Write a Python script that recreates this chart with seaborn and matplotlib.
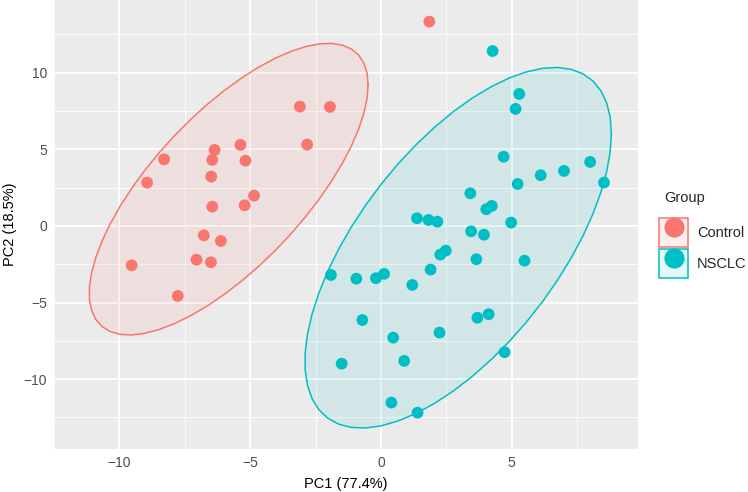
import numpy as np
import pandas as pd
import matplotlib
matplotlib.use("Agg")
import matplotlib.pyplot as plt
import seaborn as sns
from matplotlib.patches import Patch
from matplotlib.lines import Line2D
from matplotlib.legend_handler import HandlerTuple

# PCA scores
control_pc1 = [-3.10, -1.95, -2.82, -6.36, -5.37, -8.29, -6.45, -5.18, -8.94, -6.49,
               -4.85, -6.45, -5.21, -6.77, -6.12, -7.05, -6.50, -9.53, -7.77, 1.85]
control_pc2 = [7.79, 7.77, 5.31, 4.96, 5.29, 4.35, 4.31, 4.26, 2.83, 3.22,
               1.98, 1.26, 1.35, -0.61, -0.98, -2.20, -2.37, -2.57, -4.57, 13.34]
nsclc_pc1 = [4.27, 5.29, 5.15, 4.69, 8.00, 7.00, 6.11, 5.23, 8.53, 3.42,
             4.24, 4.03, 1.38, 1.82, 2.16, 4.98, 3.45, 3.94, 2.48, 2.27,
             3.65, 5.49, -1.91, -0.94, -0.19, 0.12, 1.90, 1.20, -0.71, 3.69,
             4.12, 0.47, 2.24, -1.50, 0.89, 4.73, 0.40, 1.40]
nsclc_pc2 = [11.42, 8.62, 7.64, 4.52, 4.18, 3.59, 3.31, 2.74, 2.83, 2.13,
             1.31, 1.09, 0.50, 0.39, 0.28, 0.22, -0.35, -0.57, -1.61, -1.87,
             -2.17, -2.27, -3.20, -3.44, -3.41, -3.13, -2.85, -3.85, -6.14, -5.99,
             -5.76, -7.29, -6.96, -8.99, -8.81, -8.24, -11.53, -12.19]

groups = ["Control", "NSCLC"]
palette = {"Control": "#F8766D", "NSCLC": "#00BFC4"}
x_ticks = [-10, -5, 0, 5]
y_ticks = [-10, -5, 0, 5, 10]

df = pd.DataFrame({
    "PC1": control_pc1 + nsclc_pc1,
    "PC2": control_pc2 + nsclc_pc2,
    "Group": ["Control"] * len(control_pc1) + ["NSCLC"] * len(nsclc_pc1),
})


def cov_trob(x, nu=5, maxit=25, tol=0.01):
    # robust t covariance, same steps as MASS::cov.trob
    n, p = x.shape
    loc = x.mean(axis=0)
    w = np.ones(n)
    for _ in range(maxit):
        w0 = w
        X = x - loc
        _, d, vt = np.linalg.svd(np.sqrt(w / w.sum())[:, None] * X, full_matrices=False)
        wX = X @ vt.T @ np.diag(1 / d)
        Q = (wX ** 2).sum(axis=1)
        w = (nu + p) / (nu + Q)
        loc = (w[:, None] * x).sum(axis=0) / w.sum()
        if np.all(np.abs(w - w0) < tol):
            break
    cov = (np.sqrt(w)[:, None] * X).T @ (np.sqrt(w)[:, None] * X) / n
    return loc, cov


def ellipse_pts(x, level=0.95, segments=51):
    # 95% t ellipse like ggplot2 stat_ellipse()
    n = x.shape[0]
    loc, cov = cov_trob(x)
    dfd = n - 1
    qf = dfd / 2 * ((1 - level) ** (-2 / dfd) - 1)  # F(2, dfd) quantile
    radius = np.sqrt(2 * qf)
    ang = np.linspace(0, 2 * np.pi, segments + 1)
    circle = np.column_stack([np.cos(ang), np.sin(ang)])
    chol = np.linalg.cholesky(cov).T
    return loc + radius * circle @ chol


sns.set_theme(style="darkgrid", rc={
    "axes.facecolor": "#EBEBEB",
    "grid.color": "white",
    "grid.linewidth": 1.3,
    "axes.edgecolor": "#EBEBEB",
})
plt.rcParams["font.family"] = ["Liberation Sans", "DejaVu Sans"]

fig = plt.figure(figsize=(7.48, 4.92), dpi=100)
ax = fig.add_axes([54 / 748, 1 - 449 / 492, (638 - 54) / 748, 449 / 492])

for g in groups:
    sub = df[df["Group"] == g][["PC1", "PC2"]].to_numpy()
    e = ellipse_pts(sub)
    ax.fill(e[:, 0], e[:, 1], color=palette[g], alpha=0.1, lw=0, zorder=2)
    ax.plot(e[:, 0], e[:, 1], color=palette[g], lw=1.1, zorder=3)

sns.scatterplot(data=df, x="PC1", y="PC2", hue="Group", palette=palette,
                s=72, linewidth=0, alpha=1, ax=ax, legend=False, zorder=4)

ax.set_xlim(-12.14, 9.83)
ax.set_ylim(-14.56, 14.75)
ax.set_xticks(x_ticks)
ax.set_yticks(y_ticks)
ax.set_xticklabels(["\u221210", "\u22125", "0", "5"])
ax.set_yticklabels(["\u221210", "\u22125", "0", "5", "10"])
ax.set_xticks([-12.5, -7.5, -2.5, 2.5, 7.5], minor=True)
ax.set_yticks([-12.5, -7.5, -2.5, 2.5, 7.5, 12.5], minor=True)
ax.grid(which="minor", color="white", lw=0.6)
ax.tick_params(which="major", length=3, width=0.8, color="#333333",
               labelsize=10, labelcolor="#4D4D4D", pad=2)
ax.tick_params(which="minor", length=0)
for s in ax.spines.values():
    s.set_visible(False)
ax.set_xlabel("PC1 (77.4%)", fontsize=10.5, color="black", labelpad=5)
ax.set_ylabel("PC2 (18.5%)", fontsize=10.5, color="black", labelpad=5)

# legend: title as its own text so the gap under it can match ggplot
fig.text(664 / 748, 1 - 198 / 492, "Group", fontsize=10.5, ha="left", va="center")
handles = [(Patch(facecolor=palette[g], alpha=0.1, edgecolor="none"),
            Patch(facecolor="none", edgecolor=palette[g], lw=1.1),
            Line2D([], [], marker="o", ls="", color=palette[g], markersize=13.5))
           for g in groups]
leg = fig.legend(handles, groups, loc="upper left",
                 bbox_to_anchor=(659 / 748, 1 - 218 / 492), frameon=False,
                 handler_map={tuple: HandlerTuple(ndivide=1, pad=0)},
                 handlelength=1.99, handleheight=2.68, labelspacing=0.14,
                 handletextpad=0.6, fontsize=10.5,
                 borderaxespad=0, borderpad=0)

fig.savefig("out.png", dpi=100)
